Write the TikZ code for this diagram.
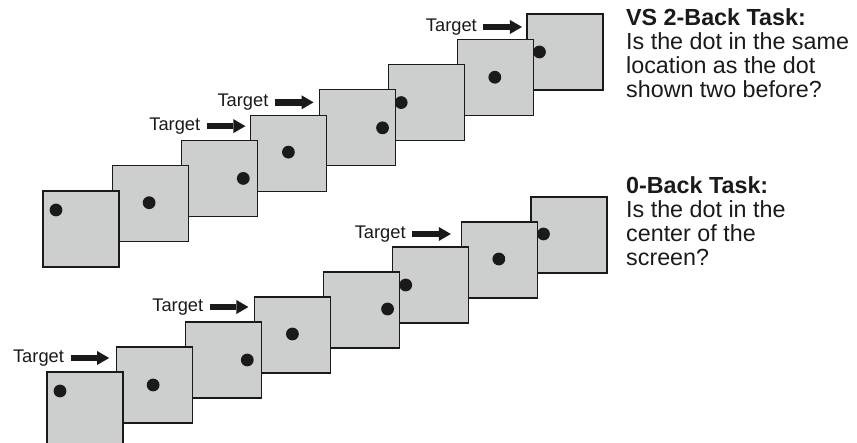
\documentclass[tikz,border=0pt]{standalone}
\usepackage{fontspec}
\setmainfont{Liberation Sans}
\usetikzlibrary{calc,arrows.meta}
\definecolor{scr}{RGB}{205,207,207}
\definecolor{ink}{RGB}{26,26,26}
\tikzset{
  screen/.style={draw=ink, fill=scr, line width=1.2pt, minimum size=76pt,
    inner sep=0pt, outer sep=0pt, anchor=north west},
  dotmark/.style={fill=ink},
  tlabel/.style={font=\fontsize{18.3}{20}\selectfont, text=ink, inner sep=0pt, anchor=base east},
  tarrow/.style={draw=ink, line width=6.5pt,
    -{Triangle[length=12pt,width=14pt,line width=0pt]}},
  tasktext/.style={font=\fontsize{23.3}{24}\selectfont, text=ink, align=left,
    inner sep=0pt, anchor=north west},
}
\begin{document}
\begin{tikzpicture}[x=1pt,y=-1pt]
\useasboundingbox (0,0) rectangle (857,443);
\clip (0,0) rectangle (857,443);
% VS 2-back row (earlier screens lie on top)
\foreach \i/\dx/\dy in {8/12.5/38,7/37/38,6/12.5/38,5/63/38,4/38/37,3/62/38,2/37/37,1/13/19} {
  \node[screen] (a\i) at ({43+69.14*(\i-1)},{191-25.29*(\i-1)}) {};
  \fill[dotmark] ($(a\i.north west)+(\dx,\dy)$) circle[radius=6.4];
}
% 0-back row
\foreach \i/\dx/\dy in {8/12.5/37,7/37/37,6/13/38,5/64/37,4/38/37,3/62/38,2/37/38,1/13/19} {
  \node[screen] (b\i) at ({47+69.14*(\i-1)},{372-25.0*(\i-1)}) {};
  \fill[dotmark] ($(b\i.north west)+(\dx,\dy)$) circle[radius=6.4];
}
% targets
\foreach \s/\gx/\gy in {a4/5/11,a5/6/12.5,a8/5/13,b2/7/11,b4/6/10,b7/11/12} {
  \coordinate (tip\s) at ($(\s.north west)+(-\gx,\gy)$);
  \node[tlabel] (lab\s) at ($(tip\s)+(-45,4.5)$) {Target};
  \draw[tarrow] ($(lab\s.base east)+(6.5,-4.5)$) -- (tip\s);
}
% task descriptions
\node[tasktext] (vs) at (626,8.3) {\textbf{VS 2-Back Task:}\\Is the dot in the same\\location as the dot\\shown two before?};
\node[tasktext] (zb) at (626,176.1) {\textbf{0-Back Task:}\\Is the dot in the\\center of the\\screen?};
\end{tikzpicture}
\end{document}
